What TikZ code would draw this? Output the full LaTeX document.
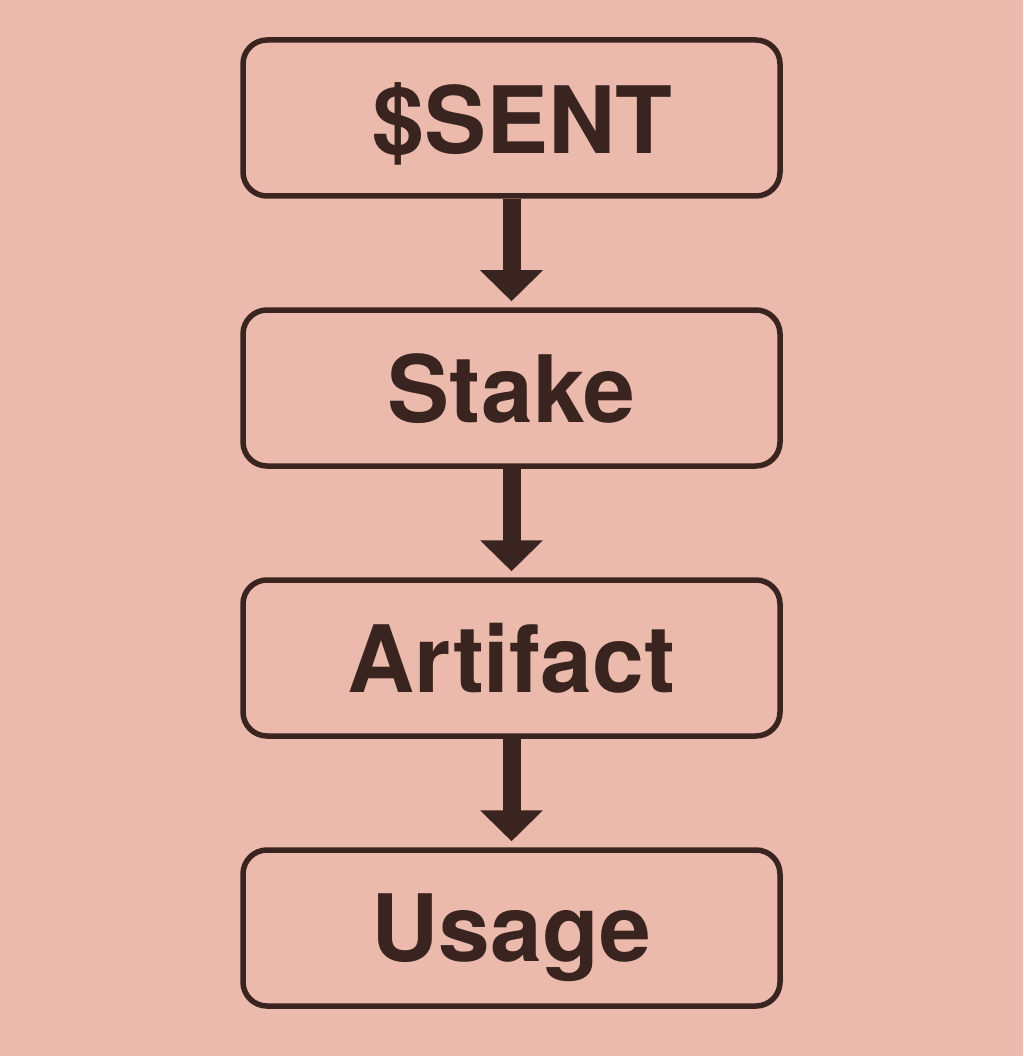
\documentclass[tikz,border=0pt]{standalone}
\usepackage{fontspec}
\setmainfont{TeX Gyre Heros}
\usetikzlibrary{positioning,arrows.meta}
\definecolor{bgpink}{HTML}{EBBAAC}
\definecolor{darkbrown}{HTML}{3A2420}
\tikzset{every picture/.style={line width=0.8pt}}

\begin{document}
\begin{tikzpicture}[node distance=108.5pt, x=1pt, y=1pt]
    % Background
    \fill[bgpink] (0,0) rectangle (1023,-1056);
    \useasboundingbox (0,0) rectangle (1023,-1056);

    % Flow boxes
\node[draw=darkbrown, rectangle, rounded corners=24pt, line width=5.5pt, fill=bgpink, text=darkbrown, minimum width=537pt, minimum height=156pt, text depth=0pt, font=\fontsize{93}{100}\selectfont\bfseries] (sent) at (511.5,-118) {\hspace{22pt}\$SENT};
\node[draw=darkbrown, rectangle, rounded corners=24pt, line width=5.5pt, fill=bgpink, text=darkbrown, minimum width=537pt, minimum height=156pt, text depth=0pt, font=\fontsize{93}{100}\selectfont\bfseries, below=of sent] (stake) {Stake};
\node[draw=darkbrown, rectangle, rounded corners=24pt, line width=5.5pt, fill=bgpink, text=darkbrown, minimum width=537pt, minimum height=156pt, text depth=0pt, font=\fontsize{93}{100}\selectfont\bfseries, below=of stake] (artifact) {Artifact};
\node[draw=darkbrown, rectangle, rounded corners=24pt, line width=5.5pt, fill=bgpink, text=darkbrown, minimum width=537pt, minimum height=156pt, text depth=0pt, font=\fontsize{93}{100}\selectfont\bfseries, below=of artifact] (usage) {Usage};

    % Connections
    \draw[-{Triangle[width=61pt,length=31pt]}, line width=18pt, darkbrown, shorten >=6pt] (sent) -- (stake);
    \draw[-{Triangle[width=61pt,length=31pt]}, line width=18pt, darkbrown, shorten >=6pt] (stake) -- (artifact);
    \draw[-{Triangle[width=61pt,length=31pt]}, line width=18pt, darkbrown, shorten >=6pt] (artifact) -- (usage);
\end{tikzpicture}
\end{document}
